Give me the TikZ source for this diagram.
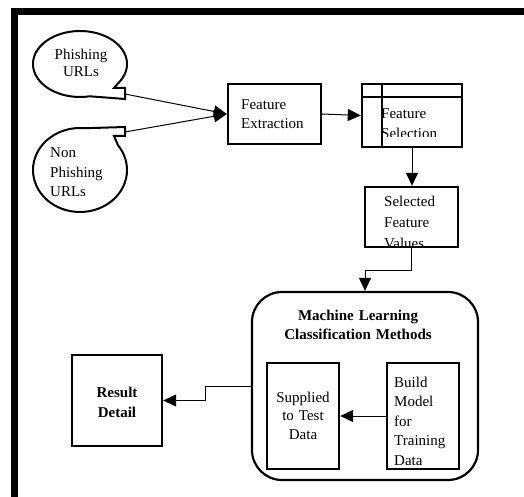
\documentclass[tikz,border=0pt]{standalone}
\usepackage{fontspec}
\setmainfont{Liberation Serif}
\usetikzlibrary{arrows.meta}
\tikzset{
  boxline/.style={draw, line width=2.4bp, inner sep=0pt},
  conn/.style={line width=1bp, -{Triangle[length=13bp,width=12bp]}},
  txt/.style={inner sep=0pt, font=\fontsize{15bp}{#1}\selectfont},
  txtl/.style={txt=#1, anchor=base west, text width=110bp, align=left},
  txtc/.style={txt=#1, anchor=base, text width=180bp, align=center},
}
\begin{document}
\begin{tikzpicture}[x=1bp, y=-1bp]
\useasboundingbox (0,0) rectangle (524,497);
\fill[white] (0,0) rectangle (524,497);

% frame bars along the top and left edges
\fill[black] (11,8) rectangle (524,15);
\fill[black] (11,8) rectangle (18,497);

% callout bubbles
\draw[line width=2bp, line join=miter]
  (125,99) -- ({80+47*cos(78)},{64+33*sin(78)})
  arc[start angle=78, end angle=396, x radius=47, y radius=33]
  -- (114,88) -- (125,88) -- cycle;
\node[txtc=17bp] (phtext) at (81,60) {Phishing\\URLs};
\coordinate (ptail) at (125,94);

\draw[line width=2bp, line join=miter]
  (125,127) -- ({80+47*cos(-84)},{170+42*sin(-84)})
  arc[start angle=-84, end angle=-396, x radius=47, y radius=42]
  -- (114,136) -- (125,136) -- cycle;
\node[txtl=19.5bp] (nphtext) at (50,158) {Non\\Phishing\\URLs};
\coordinate (ntail) at (125,132);

% feature extraction
\node[boxline, minimum width=93bp, minimum height=60bp] (fe) at (274.5,114) {};
\node[txtl=19bp] (fetext) at (241,110) {Feature\\Extraction};

% feature selection (table-like box)
\node[boxline, minimum width=100bp, minimum height=63bp] (fs) at (412,115.5) {};
\draw[line width=2.2bp] (fs.north west |- 0,97) -- (fs.north east |- 0,97);
\draw[line width=2.2bp] (382,0 |- fs.north) -- (382,0 |- fs.south);
\begin{scope}
  \clip (364,99) rectangle (460,137);
  \node[txtl=20bp] (fstext) at (381,119) {Feature\\Selection};
\end{scope}

% selected feature values
\node[boxline, minimum width=93bp, minimum height=60bp] (sfv) at (411.5,217) {};
\begin{scope}
  \clip (367,189) rectangle (456,245.5);
  \node[txtl=20.5bp] (sfvtext) at (384,207) {Selected\\Feature\\Values};
\end{scope}

% machine learning group
\node[draw, line width=2.2bp, rounded corners=30bp, minimum width=226bp,
      minimum height=188bp, inner sep=0pt] (ml) at (365,386) {};
\node[txtc=18.5bp, font=\fontsize{15bp}{18.5bp}\selectfont\bfseries]
  (mltext) at (358,320.5) {Machine Learning\\Classification Methods};

\node[boxline, minimum width=72bp, minimum height=106bp] (sup) at (303,416) {};
\node[txtc=18.7bp, text width=70bp] (suptext) at (303,402) {Supplied\\to Test\\Data};

\node[boxline, minimum width=72bp, minimum height=106bp] (bld) at (423,416) {};
\begin{scope}
  \clip (389,365) rectangle (457,467.5);
  \node[txtl=19.5bp] (bldtext) at (394,387) {Build\\Model\\for\\Training\\Data};
\end{scope}

% result
\node[boxline, minimum width=90bp, minimum height=91bp] (res) at (117,400.5) {};
\node[txtc=20.5bp, text width=80bp, font=\fontsize{15bp}{20.5bp}\selectfont\bfseries]
  (restext) at (117,397) {Result\\Detail};

% connectors
\draw[conn] (ptail) -- (fe.west);
\draw[conn] (ntail) -- (fe.west);
\draw[conn] (fe.east) -- (fs.west);
\draw[conn] (fs.south) -- (fs.south |- sfv.north);
\draw[conn] (sfv.south) -- ++(0,22) -| (ml.north);
\draw[conn] (bld.west) -- (sup.east);
\draw[conn] (ml.west) -- ++(-45,0) |- (res.east);
\end{tikzpicture}
\end{document}
